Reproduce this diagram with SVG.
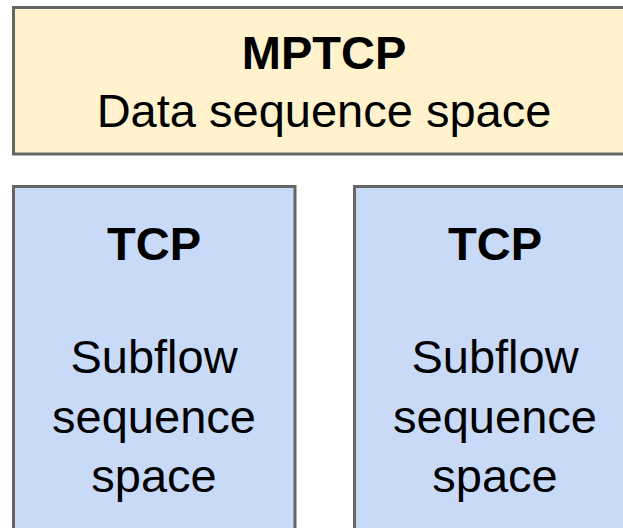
<svg xmlns="http://www.w3.org/2000/svg" width="623" height="528" viewBox="0 0 623 528">
  <style>
    .box { stroke: #666666; stroke-width: 3; }
    .mp { fill: #fff2cc; }
    .tcp { fill: #c9daf8; }
    text { font-family: "Liberation Sans", Arial, sans-serif; font-size: 47px; fill: #000000; text-anchor: middle; }
    .b { font-weight: bold; }
  </style>
  <rect width="623" height="528" fill="#ffffff"/>
  <g id="mptcp">
    <rect class="box mp" x="13.5" y="7.5" width="621" height="146.5"/>
    <text class="b" x="324" y="69">MPTCP</text>
    <text x="324" y="127">Data sequence space</text>
  </g>
  <g id="tcp1">
    <rect class="box tcp" x="13.5" y="186.5" width="281.5" height="360"/>
    <text class="b" x="154" y="260">TCP</text>
    <text x="154" y="373">Subflow</text>
    <text x="154" y="433">sequence</text>
    <text x="154" y="492">space</text>
  </g>
  <g id="tcp2">
    <rect class="box tcp" x="354.5" y="186.5" width="281.5" height="360"/>
    <text class="b" x="495" y="260">TCP</text>
    <text x="495" y="373">Subflow</text>
    <text x="495" y="433">sequence</text>
    <text x="495" y="492">space</text>
  </g>
  <g id="connectors"></g>
</svg>
